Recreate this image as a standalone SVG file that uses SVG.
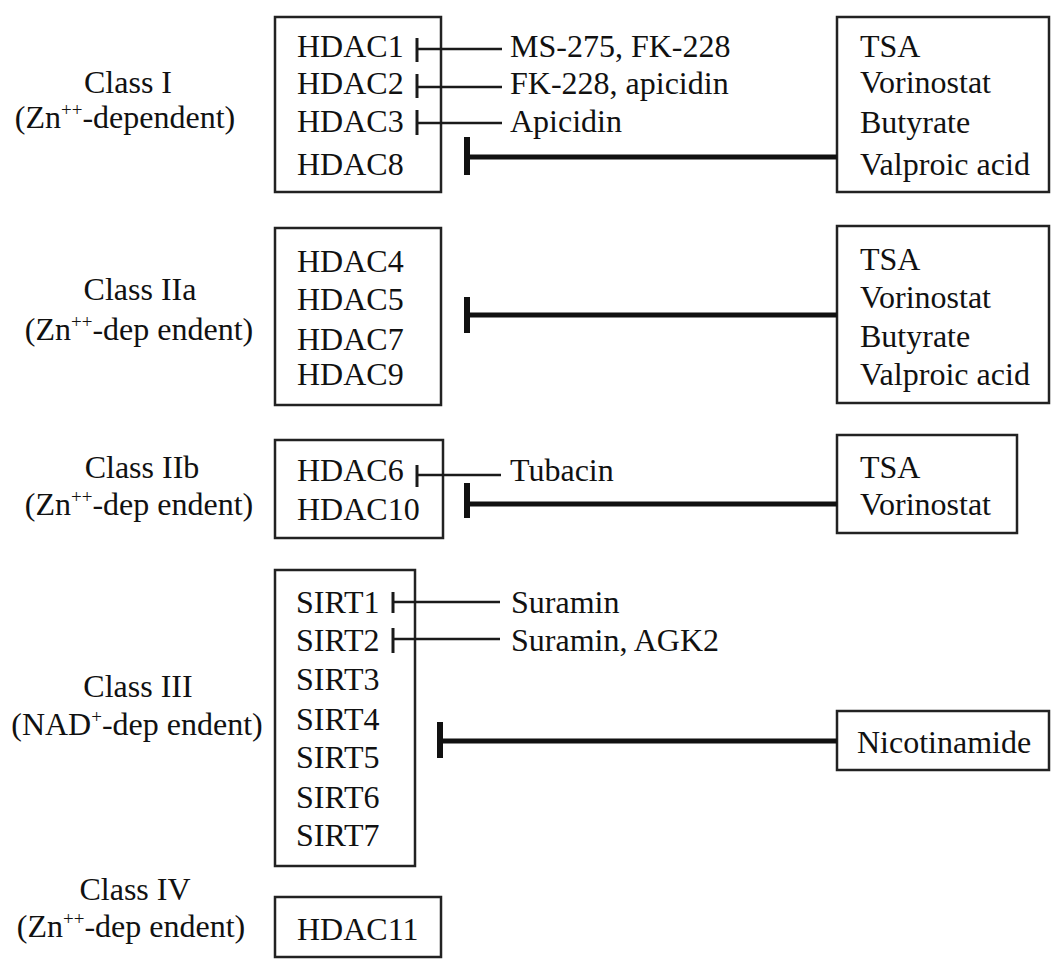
<svg xmlns="http://www.w3.org/2000/svg" width="1052" height="965" viewBox="0 0 1052 965">
<style>
text{font-family:"Liberation Serif","Times New Roman",serif;font-size:32px;fill:#111}
.lbl{text-anchor:middle}
.sup{font-size:19px}
.box{fill:#fff;stroke:#222;stroke-width:2.5}
.thin{stroke:#1a1a1a;stroke-width:2.5;fill:none}
.thinbar{stroke:#1a1a1a;stroke-width:3;fill:none}
.thick{stroke:#111;stroke-width:5;fill:none}
.thickbar{stroke:#111;stroke-width:6;fill:none}
</style>
<rect width="1052" height="965" fill="#fff"/>
<g id="labels">
<g id="label-class1"><text class="lbl" x="128" y="93">Class I</text><text class="lbl" x="125" y="128">(Zn<tspan class="sup" dy="-12">++</tspan><tspan dy="12">-dependent)</tspan></text></g>
<g id="label-class2a"><text class="lbl" x="140" y="300">Class IIa</text><text class="lbl" x="139" y="340">(Zn<tspan class="sup" dy="-12">++</tspan><tspan dy="12">-dep endent)</tspan></text></g>
<g id="label-class2b"><text class="lbl" x="142" y="478">Class IIb</text><text class="lbl" x="139" y="515">(Zn<tspan class="sup" dy="-12">++</tspan><tspan dy="12">-dep endent)</tspan></text></g>
<g id="label-class3"><text class="lbl" x="138" y="697">Class III</text><text class="lbl" x="137" y="735">(NAD<tspan class="sup" dy="-12">+</tspan><tspan dy="12">-dep endent)</tspan></text></g>
<g id="label-class4"><text class="lbl" x="135" y="900">Class IV</text><text class="lbl" x="131" y="937">(Zn<tspan class="sup" dy="-12">++</tspan><tspan dy="12">-dep endent)</tspan></text></g>
</g>
<g id="node-class1">
<rect class="box" x="275" y="17" width="166" height="175"/>
<text x="297" y="57">HDAC1</text><text x="297" y="94">HDAC2</text><text x="297" y="132">HDAC3</text><text x="297" y="175">HDAC8</text>
</g>
<g id="node-class2a">
<rect class="box" x="275" y="228" width="166" height="177"/>
<text x="297" y="272">HDAC4</text><text x="297" y="310">HDAC5</text><text x="297" y="350">HDAC7</text><text x="297" y="385">HDAC9</text>
</g>
<g id="node-class2b">
<rect class="box" x="275" y="440" width="168" height="98"/>
<text x="297" y="481">HDAC6</text><text x="297" y="520">HDAC10</text>
</g>
<g id="node-class3">
<rect class="box" x="275" y="570" width="140" height="296"/>
<text x="296" y="613">SIRT1</text><text x="296" y="651">SIRT2</text><text x="296" y="690">SIRT3</text><text x="296" y="730">SIRT4</text><text x="296" y="768">SIRT5</text><text x="296" y="808">SIRT6</text><text x="296" y="846">SIRT7</text>
</g>
<g id="node-class4">
<rect class="box" x="275" y="897" width="166" height="60"/>
<text x="297" y="940">HDAC11</text>
</g>
<g id="inh-class1">
<rect class="box" x="837" y="17" width="212" height="175"/>
<text x="860" y="57">TSA</text><text x="860" y="93">Vorinostat</text><text x="860" y="133">Butyrate</text><text x="860" y="175" textLength="170" lengthAdjust="spacingAndGlyphs">Valproic acid</text>
</g>
<g id="inh-class2a">
<rect class="box" x="837" y="226" width="212" height="177"/>
<text x="860" y="270">TSA</text><text x="860" y="308">Vorinostat</text><text x="860" y="347">Butyrate</text><text x="860" y="385" textLength="170" lengthAdjust="spacingAndGlyphs">Valproic acid</text>
</g>
<g id="inh-class2b">
<rect class="box" x="837" y="435" width="180" height="98"/>
<text x="860" y="478">TSA</text><text x="860" y="515">Vorinostat</text>
</g>
<g id="inh-class3">
<rect class="box" x="837" y="711" width="212" height="59"/>
<text x="857" y="753">Nicotinamide</text>
</g>
<g id="specific-inhibitors">
<text x="510" y="57">MS-275, FK-228</text>
<text x="510" y="94">FK-228, apicidin</text>
<text x="510" y="132">Apicidin</text>
<text x="510" y="481">Tubacin</text>
<text x="511" y="613">Suramin</text>
<text x="511" y="651">Suramin, AGK2</text>
</g>
<g id="connectors">
<line class="thin" x1="417" y1="49" x2="502" y2="49"/><line class="thinbar" x1="417" y1="38" x2="417" y2="62"/>
<line class="thin" x1="417" y1="87" x2="502" y2="87"/><line class="thinbar" x1="417" y1="74" x2="417" y2="98"/>
<line class="thin" x1="417" y1="123" x2="502" y2="123"/><line class="thinbar" x1="417" y1="110" x2="417" y2="135"/>
<line class="thick" x1="467" y1="157" x2="837" y2="157"/><line class="thickbar" x1="467" y1="137" x2="467" y2="175"/>
<line class="thick" x1="467" y1="315" x2="837" y2="315"/><line class="thickbar" x1="467" y1="297" x2="467" y2="333"/>
<line class="thin" x1="417" y1="475" x2="501" y2="475"/><line class="thinbar" x1="417" y1="465" x2="417" y2="487"/>
<line class="thick" x1="467" y1="504" x2="837" y2="504"/><line class="thickbar" x1="467" y1="483" x2="467" y2="518"/>
<line class="thin" x1="393" y1="602" x2="500" y2="602"/><line class="thinbar" x1="393" y1="592" x2="393" y2="613"/>
<line class="thin" x1="393" y1="639" x2="500" y2="639"/><line class="thinbar" x1="393" y1="628" x2="393" y2="653"/>
<line class="thick" x1="440" y1="741" x2="837" y2="741"/><line class="thickbar" x1="440" y1="722" x2="440" y2="758"/>
</g>
</svg>
